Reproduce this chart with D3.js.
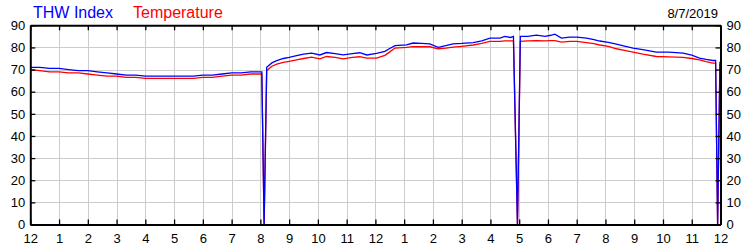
<!DOCTYPE html>
<html>
<head>
<meta charset="utf-8">
<script src="https://cdn.jsdelivr.net/npm/d3@7"></script>
<style>
  body { margin: 0; background: #fff; }
  svg text { font-family: "Liberation Sans", Arial, sans-serif; fill: #000; }
  .axis path, .axis line { stroke: #000; }
  .grid line { stroke: #cccccc; stroke-width: 1; shape-rendering: crispEdges; }
  .grid path { display: none; }
</style>
</head>
<body>
<div id="chart"></div>
<script>
// hour of day (0 = midnight) for each reading
var times = [
  0, 0.33, 0.67, 1, 1.33, 1.67, 2, 2.33, 2.67, 3, 3.33, 3.67, 4, 4.33, 4.67, 5, 5.33, 5.67,
  6, 6.33, 6.67, 7, 7.33, 7.67, 8, 8.05,
  8.13,
  8.22, 8.4, 8.57, 8.8, 9.0, 9.26, 9.5, 9.78, 10.07, 10.3, 10.6, 10.88, 11.2, 11.46, 11.7,
  12.04, 12.33, 12.5, 12.68, 13.08, 13.31, 13.6, 13.89, 14.18, 14.45, 14.7, 15.0, 15.4, 15.7,
  15.98, 16.33, 16.5, 16.7, 16.8,
  16.94,
  17.04, 17.3, 17.6, 17.9, 18.1, 18.24, 18.47, 18.76, 19.0, 19.34, 19.6, 19.8, 20.1, 20.38,
  20.7, 20.96, 21.3, 21.77, 22.2, 22.7, 23.0, 23.27, 23.5, 23.73, 23.83,
  23.9, 23.98
];

var thwIndex = [
  71, 71, 70.5, 70.5, 70, 69.5, 69.5, 69, 68.5, 68, 67.5, 67.5, 67, 67, 67, 67, 67, 67,
  67.5, 67.5, 68, 68.5, 68.5, 69, 69, 69,
  0,
  71, 73, 74, 75, 75.5, 76.3, 77, 77.4, 76.6, 77.7, 77.2, 76.6, 77.2, 77.6, 76.6,
  77.3, 78.2, 79.5, 80.8, 81.2, 82, 81.8, 81.6, 80, 80.8, 81.6, 81.8, 82.2, 83,
  84.2, 84.2, 85, 84.5, 85,
  0,
  85, 85, 85.6, 85, 85.5, 86, 84.2, 84.7, 84.7, 84.2, 83.5, 82.9, 82.3, 81.5,
  80.5, 79.7, 79, 77.9, 77.9, 77.4, 76.5, 75.2, 74.6, 74.1, 74.1,
  0, 73.5
];

var temperature = [
  70, 69.5, 69, 69, 68.5, 68.5, 68, 67.5, 67, 67, 66.5, 66.5, 66, 66, 66, 66, 66, 66,
  66.5, 66.5, 67, 67.5, 67.5, 68, 68, 68,
  0,
  69.5, 71.5, 72.5, 73.2, 73.7, 74.4, 75, 75.6, 74.8, 75.9, 75.5, 74.8, 75.5, 75.8, 75.2,
  75.2, 76.4, 78, 79.7, 80, 80.4, 80.3, 80.3, 79.4, 79.7, 80.1, 80.5, 81.1, 81.8,
  82.7, 82.7, 83, 83, 83,
  0,
  82.7, 83, 83.1, 83, 83.1, 83.1, 82.4, 82.7, 82.7, 82.2, 81.7, 81.1, 80.5, 79.4,
  78.6, 77.9, 77, 75.9, 75.7, 75.5, 75, 74.4, 73.6, 72.9, 72.9,
  0, 72.5
];

var hourTicks = d3.range(0, 25);
var hourLabels = ["12", "1", "2", "3", "4", "5", "6", "7", "8", "9", "10", "11",
                  "12", "1", "2", "3", "4", "5", "6", "7", "8", "9", "10", "11", "12"];
var yTicks = [0, 10, 20, 30, 40, 50, 60, 70, 80, 90];
var seriesNames = ["THW Index", "Temperature"];
var seriesColors = ["#0000ff", "#ff0000"];
var dateLabel = "8/7/2019";

var width = 750, height = 250;

var svg = d3.select("#chart").append("svg")
    .attr("width", width)
    .attr("height", height)

var x = d3.scaleLinear().domain([0, 24]).range([30.3, 720.5])
var y = d3.scaleLinear().domain([0, 90]).range([224.5, 25.3])

// grid
svg.append("g")
    .attr("class", "grid")
    .attr("transform", "translate(0," + y(0) + ")")
    .call(d3.axisBottom(x).tickValues(hourTicks).tickSize(-(y(0) - y(90))).tickFormat(""))

svg.append("g")
    .attr("class", "grid")
    .attr("transform", "translate(" + x(0) + ",0)")
    .call(d3.axisLeft(y).tickValues(yTicks).tickSize(-(x(24) - x(0))).tickFormat(""))

// series lines
var points = times.map(function (t, i) {
    return { t: t, thw: thwIndex[i], temp: temperature[i] }
})

var lineTemp = d3.line()
    .x(function (d) { return x(d.t) })
    .y(function (d) { return y(d.temp) })

var lineThw = d3.line()
    .x(function (d) { return x(d.t) })
    .y(function (d) { return y(d.thw) })

svg.append("path")
    .datum(points)
    .attr("fill", "none")
    .attr("stroke", seriesColors[1])
    .attr("stroke-width", 1.3)
    .attr("d", lineTemp)

svg.append("path")
    .datum(points)
    .attr("fill", "none")
    .attr("stroke", seriesColors[0])
    .attr("stroke-width", 1.3)
    .attr("d", lineThw)

// axes / frame
function styleAxis(g) {
    g.select(".domain").attr("stroke-width", 2)
    g.selectAll(".tick line").attr("stroke-width", 1.3)
    g.selectAll(".tick text").style("font-size", "13px")
}

svg.append("g")
    .attr("class", "axis")
    .attr("transform", "translate(0," + y(0) + ")")
    .call(d3.axisBottom(x).tickValues(hourTicks).tickSizeInner(-5).tickSizeOuter(0).tickPadding(9)
        .tickFormat(function (d, i) { return hourLabels[i] }))
    .call(styleAxis)

svg.append("g")
    .attr("class", "axis")
    .attr("transform", "translate(0," + y(90) + ")")
    .call(d3.axisTop(x).tickValues(hourTicks).tickSizeInner(-5).tickSizeOuter(0).tickFormat(""))
    .call(styleAxis)

svg.append("g")
    .attr("class", "axis")
    .attr("transform", "translate(" + x(0) + ",0)")
    .call(d3.axisLeft(y).tickValues(yTicks).tickSizeInner(-5).tickSizeOuter(0).tickPadding(5))
    .call(styleAxis)

svg.append("g")
    .attr("class", "axis")
    .attr("transform", "translate(" + x(24) + ",0)")
    .call(d3.axisRight(y).tickValues(yTicks).tickSizeInner(-5).tickSizeOuter(0).tickPadding(6))
    .call(styleAxis)

// legend
var legendX = [33, 133]
seriesNames.forEach(function (name, i) {
    svg.append("text")
        .attr("x", legendX[i])
        .attr("y", 17.5)
        .style("font-size", "16px")
        .style("fill", seriesColors[i])
        .text(name)
})

svg.append("text")
    .attr("x", 718)
    .attr("y", 17.5)
    .attr("text-anchor", "end")
    .style("font-size", "13px")
    .text(dateLabel)
</script>
</body>
</html>
